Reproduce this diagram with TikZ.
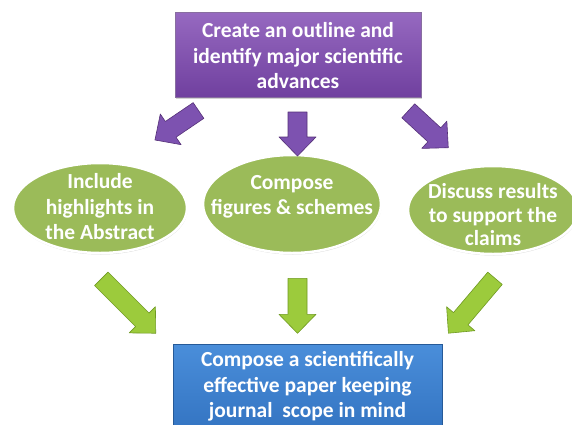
\documentclass[tikz,border=0pt]{standalone}
\usepackage{fontspec}
\setmainfont{Carlito}
\usetikzlibrary{shapes.geometric,shadows}
\definecolor{purpTop}{HTML}{9669C0}
\definecolor{purpBot}{HTML}{70409F}
\definecolor{purpArrow}{HTML}{7D52B0}
\definecolor{purpEdge}{HTML}{553078}
\definecolor{greenEll}{HTML}{9BBB59}
\definecolor{greenArrow}{HTML}{9CCB3C}
\definecolor{greenEdge}{HTML}{6F9A22}
\definecolor{blueTop}{HTML}{4A8EDA}
\definecolor{blueBot}{HTML}{3070BE}
\newcommand{\blockarrow}[5]{% #1 tail point, #2 angle, #3 length, #4 style, #5 name
  \begin{scope}[shift={#1}, rotate=#2]
    \coordinate (#5-tail) at (0,0);
    \coordinate (#5-tip) at (#3,0);
    \filldraw[#4] (#5-tail) ++(0,-9.5) -- ++(#3-19,0) -- ++(0,-9) -- (#5-tip)
      -- ++(-19,18.5) -- ++(0,-9) -- ++(-#3+19,0) -- cycle;
  \end{scope}}
\begin{document}
\begin{tikzpicture}[x=1pt,y=1pt,
  font=\bfseries\fontsize{21.5}{25.5}\selectfont,
  topbox/.style={rectangle, draw=purpEdge!70, line width=0.6pt,
    top color=purpTop, bottom color=purpBot, minimum width=246pt,
    minimum height=85pt, inner sep=0pt,
    drop shadow={shadow xshift=1pt, shadow yshift=-2pt, opacity=0.35}},
  botbox/.style={rectangle, draw=blueBot!80!black, line width=0.6pt,
    top color=blueTop, bottom color=blueBot, minimum width=269pt,
    minimum height=100pt, inner sep=0pt,
    drop shadow={shadow xshift=1pt, shadow yshift=-2pt, opacity=0.35}},
  ell/.style={ellipse, fill=greenEll, draw=white, line width=2.5pt, inner sep=0pt,
    drop shadow={shadow xshift=0.5pt, shadow yshift=-1.5pt, opacity=0.3}},
  etext/.style={text=white, align=center, inner sep=0pt},
  parrow/.style={fill=purpArrow, draw=purpEdge, line width=0.6pt, line join=round},
  garrow/.style={fill=greenArrow, draw=greenEdge, line width=0.6pt, line join=round}]
\useasboundingbox (0,0) rectangle (572,-424);
\clip (0,0) rectangle (572,-424);
\fill[white] (0,0) rectangle (572,-424);

% top box
\node[topbox] (top) at (298,-54.5) {};
\node[etext] (tt) at (298,-56)
  {Create an outline and\\identify major scientific\\advances};

% ellipses
\node[ell, minimum width=174pt, minimum height=90pt] (e1) at (100,-208) {};
\node[ell, minimum width=178pt, minimum height=98pt] (e2) at (292,-204) {};
\node[ell, minimum width=170pt, minimum height=88pt] (e3) at (493,-210) {};
\node[etext] (t1) at (100,-207) {Include\\highlights in\\the Abstract};
\node[etext] (t2) at (292,-197) {Compose\\figures \& schemes};
\node[etext, font=\bfseries\fontsize{21.5}{23.5}\selectfont] (t3) at (493,-215)
  {Discuss results\\to support the\\claims};

% bottom box
\node[botbox] (bot) at (307.5,-394) {};
\node[etext] (bt) at (307.5,-386.5)
  {Compose a scientifically\\effective paper keeping\\journal\ \ scope in mind};

% purple arrows
\blockarrow{(198.5,-110.5)}{214.1}{52.6}{parrow}{pa1}
\blockarrow{(297.5,-112)}{-90}{44}{parrow}{pa2}
\blockarrow{(408.3,-110.8)}{-42.7}{54.4}{parrow}{pa3}

% green arrows
\blockarrow{(101.3,-278.8)}{-45}{77}{garrow}{ga1}
\blockarrow{(297.5,-278.3)}{-90}{55}{garrow}{ga2}
\blockarrow{(495,-278.3)}{229.7}{72}{garrow}{ga3}
\end{tikzpicture}
\end{document}
